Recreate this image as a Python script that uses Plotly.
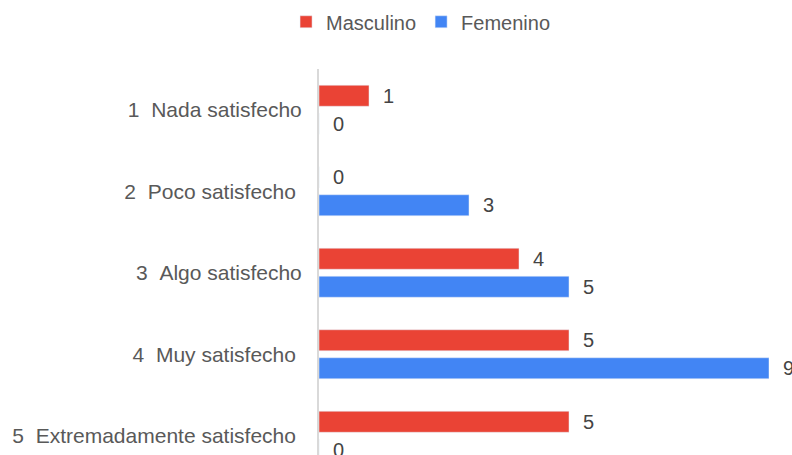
import plotly.graph_objects as go

categorias = ["1\u00a0\u00a0Nada satisfecho", "2\u00a0\u00a0Poco satisfecho\u00a0",
              "3\u00a0\u00a0Algo satisfecho", "4\u00a0\u00a0Muy satisfecho\u00a0",
              "5\u00a0\u00a0Extremadamente satisfecho\u00a0"]
masculino = [1, 0, 4, 5, 5]
femenino = [0, 3, 5, 9, 0]

fig = go.Figure()
fig.add_trace(go.Bar(y=categorias, x=masculino, orientation='h', name='Masculino',
                     marker_color='#EA4335', text=masculino, texttemplate='\u00a0\u00a0%{x}',
                     textposition='outside', cliponaxis=False, constraintext='none',
                     textfont=dict(color='#444444', size=20)))
fig.add_trace(go.Bar(y=categorias, x=femenino, orientation='h', name='Femenino',
                     marker_color='#4285F4', text=femenino, texttemplate='\u00a0\u00a0%{x}',
                     textposition='outside', cliponaxis=False, constraintext='none',
                     textfont=dict(color='#444444', size=20)))

fig.update_layout(
    width=792, height=455,
    margin=dict(l=319, r=23, t=69, b=0, autoexpand=False),
    barmode='group', bargap=0.313, bargroupgap=0.25,
    plot_bgcolor='white', paper_bgcolor='white',
    font=dict(family='Liberation Sans, Arial', size=21, color='#595959'),
    legend=dict(orientation='h', x=0.531, xanchor='center', xref='container',
                y=0.995, yanchor='top', yref='container',
                font=dict(size=20, color='#595959'),
                itemwidth=30, traceorder='normal'),
    xaxis=dict(range=[0, 9], visible=False),
    yaxis=dict(range=[4.236, -0.5], showline=True, linecolor='#d9d9d9', linewidth=2,
               showgrid=False, ticks='', ticklabelstandoff=11, automargin=False,
               tickfont=dict(size=21, color='#595959')),
)
# drop the default 8px body margin so the chart fills the window exactly
fig.write_html("out.html", config={'displayModeBar': False},
               post_script="document.body.style.margin='0';")
